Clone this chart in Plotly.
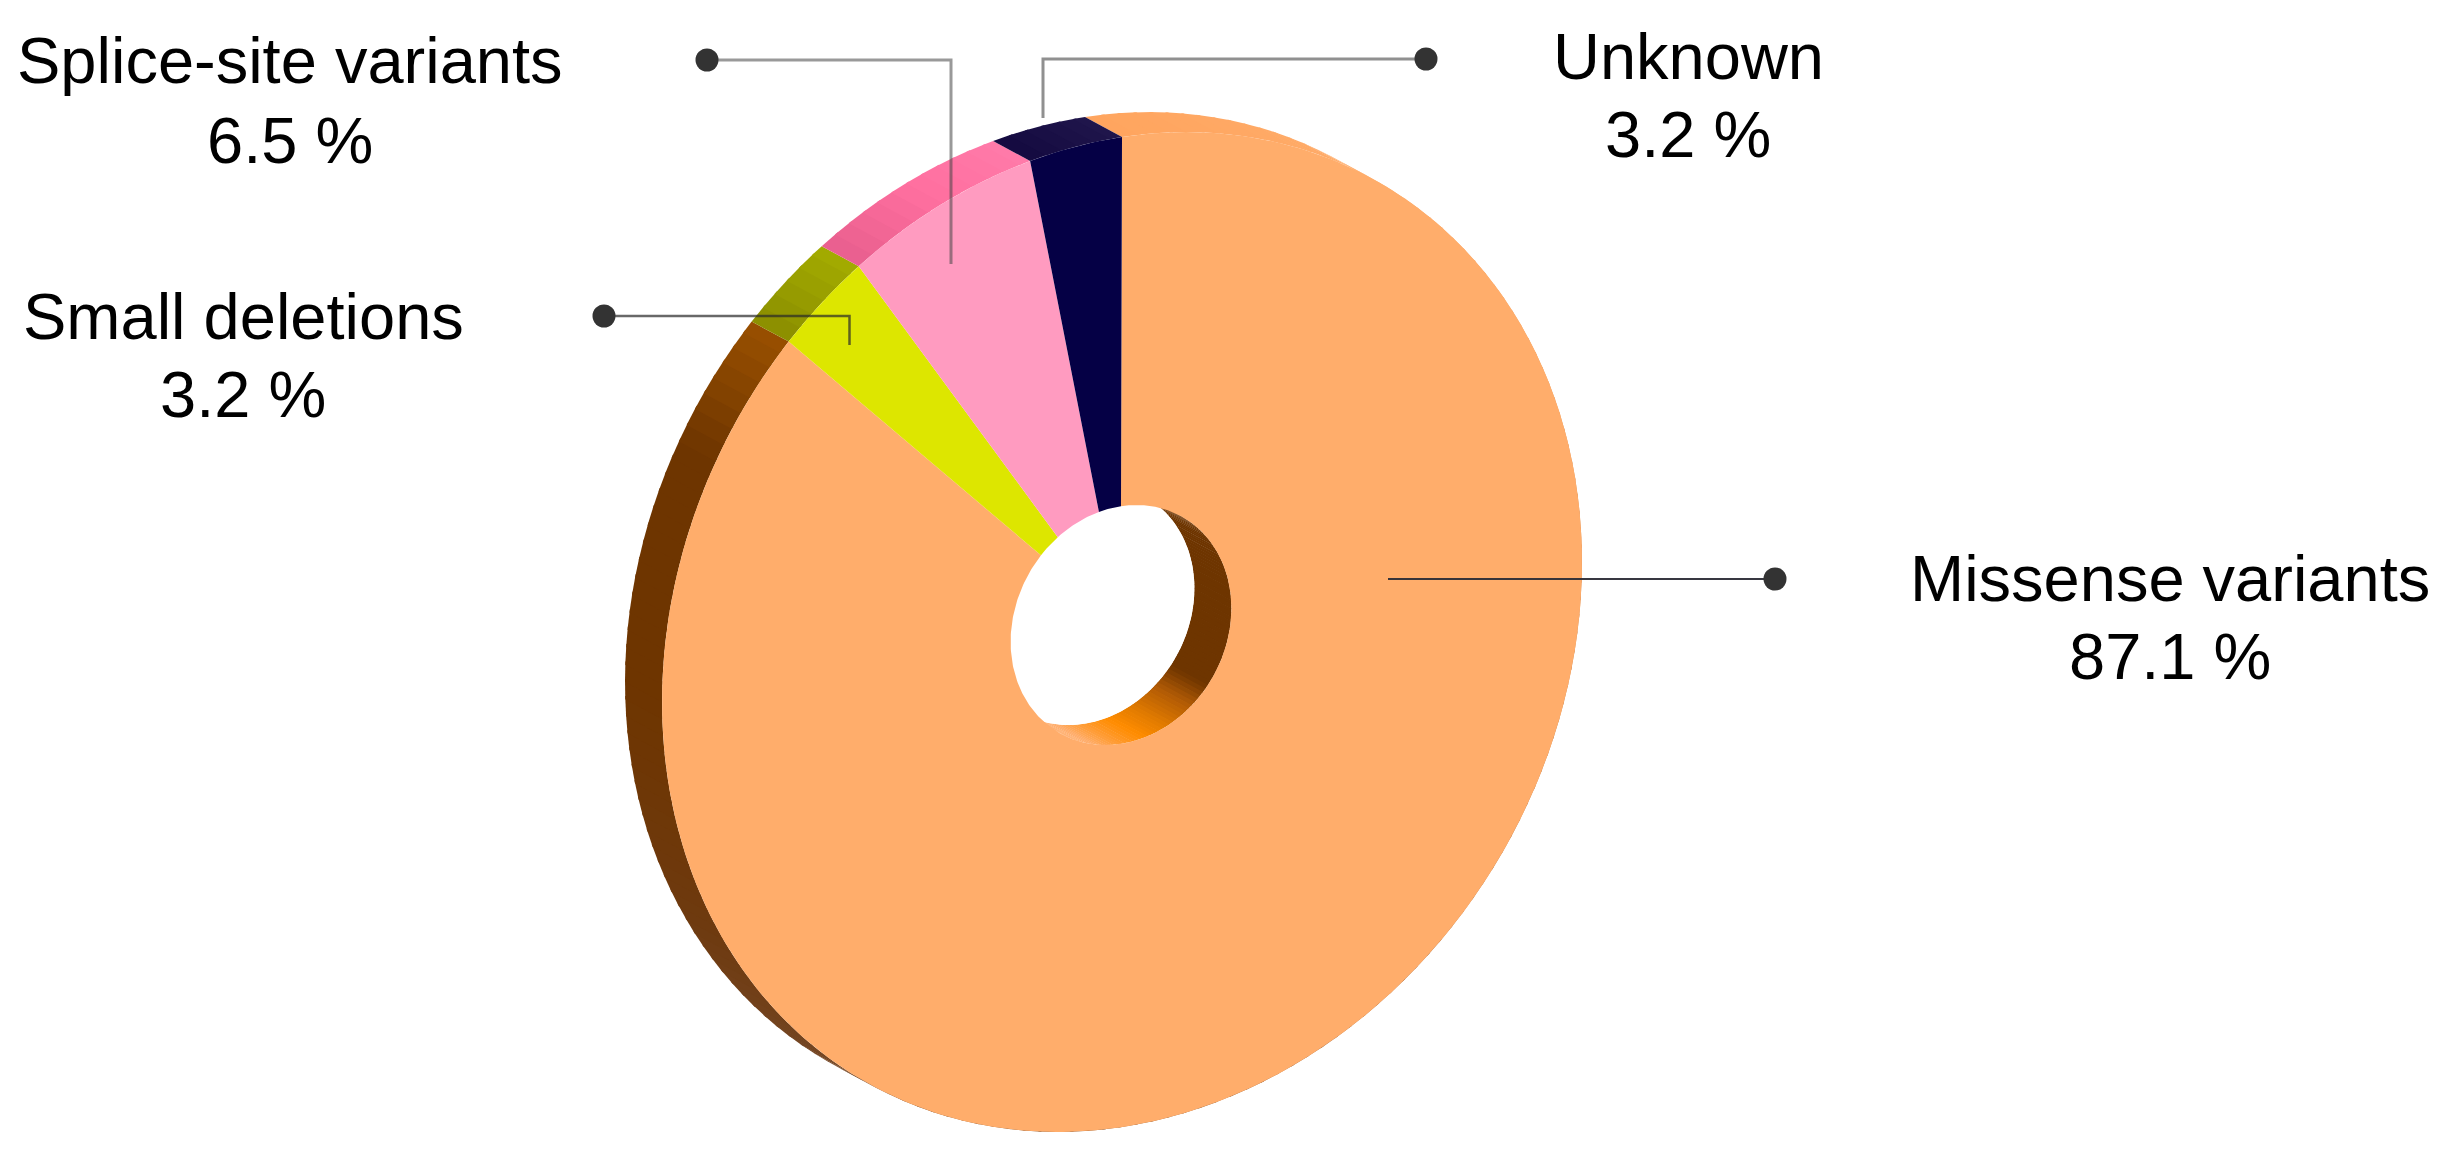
import numpy as np
import plotly.graph_objects as go

# slices, clockwise from 12 o'clock
names = ["Missense variants", "Small deletions", "Splice-site variants", "Unknown"]
values = [87.1, 3.2, 6.5, 3.2]
value_labels = ["87.1 %", "3.2 %", "6.5 %", "3.2 %"]
face_colors = ["#FFAD6B", "#DDE600", "#FF9BC0", "#050045"]

# side colour along each slice: (degrees clockwise from top, colour)
side_stops = [
    [(0, "#FFA55F"), (40, "#FFAD6B"), (215, "#754725"), (240, "#6E3A10"), (270, "#6E3500"),
     (298, "#6E3500"), (308, "#8A4700"), (314, "#9A5000")],
    [(314, "#8C8F00"), (325, "#A3AB00")],
    [(325, "#E85F8E"), (337, "#FF6F9F"), (349, "#FF7BAA")],
    [(349, "#150B40"), (360, "#20164C")],
]
# inside wall of the hole
wall_stops = [(0, "#7A4D2A"), (50, "#6E3500"), (128, "#6E3500"), (140, "#B05A05"), (155, "#E07A00"),
              (168, "#FF8C00"), (195, "#FFAD6B"), (360, "#FFAD6B")]

# tilted disc, canvas pixels
WIDTH, HEIGHT = 2448, 1151
PAGE_MARGIN = 8  # the browser's default body margin moves the plot by this much
CENTER = np.array([1122.0, 632.0])
HOLE_CENTER = np.array([1121.0, 625.0])
AXIS_P = np.array([460.0, -70.0])
AXIS_Q = np.array([0.0, -495.0])
HOLE_SCALE = 0.24
DEPTH = np.array([-37.0, -20.0])

# callouts
label_x = [2170, 243, 290, 1688]
label_y = [601, 339, 83, 79]
value_y = [679, 417, 163, 157]
leader_x = [[1775, 1388], [604, 849.5, 849.5], [707, 951, 951], [1426, 1043, 1043]]
leader_y = [[579, 579], [316, 316, 345], [60, 60, 264], [59, 59, 118]]
leader_colors = ["rgba(45,45,55,0.95)", "rgba(40,40,40,0.7)", "rgba(70,70,70,0.55)", "rgba(70,70,70,0.6)"]
leader_widths = [2, 2.5, 3, 3]
FONT = "Liberation Sans"
FONT_SIZE = 65
BASELINE_SHIFT = 23


def ring_point(deg, center=CENTER, scale=1.0):
    t = np.radians(deg)
    return (center[None, :] + scale * (np.sin(t)[:, None] * AXIS_P + np.cos(t)[:, None] * AXIS_Q))


def blend(stops, deg):
    for (d0, c0), (d1, c1) in zip(stops, stops[1:]):
        if d0 <= deg <= d1:
            f = (deg - d0) / (d1 - d0)
            a = [int(c0[i:i + 2], 16) for i in (1, 3, 5)]
            b = [int(c1[i:i + 2], 16) for i in (1, 3, 5)]
            return "rgb({},{},{})".format(*[round(p + (q - p) * f) for p, q in zip(a, b)])
    return stops[-1][1]


def polygon(points, color):
    return go.Scatter(x=points[:, 0], y=points[:, 1], mode="lines", fill="toself", fillcolor=color,
                      line=dict(width=0), hoverinfo="skip", showlegend=False)


def band(deg, stops, center, scale, step=2.0):
    # strips running back from the front rim, short enough to carry a colour ramp
    traces = []
    for d0 in np.arange(deg[0], deg[1], step):
        d1 = min(d0 + step + 0.4, deg[1])
        arc = ring_point(np.linspace(d0, d1, 4), center, scale)
        pts = np.vstack([arc, (arc + DEPTH)[::-1]])
        traces.append(polygon(pts, blend(stops, d0 + step / 2)))
    return traces


edges = np.concatenate([[0], np.cumsum(values)]) * 3.6
fig = go.Figure()

for i in range(len(values)):
    fig.add_traces(band((edges[i], edges[i + 1]), side_stops[i], CENTER, 1.0))

fig.add_traces(band((0, 360), wall_stops, HOLE_CENTER, HOLE_SCALE))
fig.add_trace(polygon(ring_point(np.linspace(0, 360, 181), HOLE_CENTER + DEPTH, HOLE_SCALE), "#FFFFFF"))

for i in range(len(values)):
    deg = np.linspace(edges[i], edges[i + 1], max(int(edges[i + 1] - edges[i]), 4) + 1)
    outer = ring_point(deg)
    inner = ring_point(deg, HOLE_CENTER, HOLE_SCALE)
    fig.add_trace(polygon(np.vstack([outer, inner[::-1]]), face_colors[i]))

for i in range(len(names)):
    fig.add_trace(go.Scatter(x=leader_x[i], y=leader_y[i], mode="lines", hoverinfo="skip", showlegend=False,
                             line=dict(color=leader_colors[i], width=leader_widths[i])))
    fig.add_trace(go.Scatter(x=leader_x[i][:1], y=leader_y[i][:1], mode="markers", hoverinfo="skip",
                             showlegend=False, marker=dict(color="#333333", size=23)))
    fig.add_annotation(x=label_x[i], y=label_y[i] - BASELINE_SHIFT, text=names[i], showarrow=False,
                       xanchor="center", yanchor="middle", font=dict(family=FONT, size=FONT_SIZE, color="#000000"))
    fig.add_annotation(x=label_x[i], y=value_y[i] - BASELINE_SHIFT, text=value_labels[i], showarrow=False,
                       xanchor="center", yanchor="middle", font=dict(family=FONT, size=FONT_SIZE, color="#000000"))

fig.update_xaxes(range=[PAGE_MARGIN, WIDTH + PAGE_MARGIN], visible=False, fixedrange=True)
fig.update_yaxes(range=[HEIGHT + PAGE_MARGIN, PAGE_MARGIN], visible=False, fixedrange=True)
fig.update_layout(width=WIDTH, height=HEIGHT, margin=dict(l=0, r=0, t=0, b=0), paper_bgcolor="#FFFFFF",
                  plot_bgcolor="#FFFFFF", showlegend=False)

fig.write_html("out.html", config=dict(displayModeBar=False))
